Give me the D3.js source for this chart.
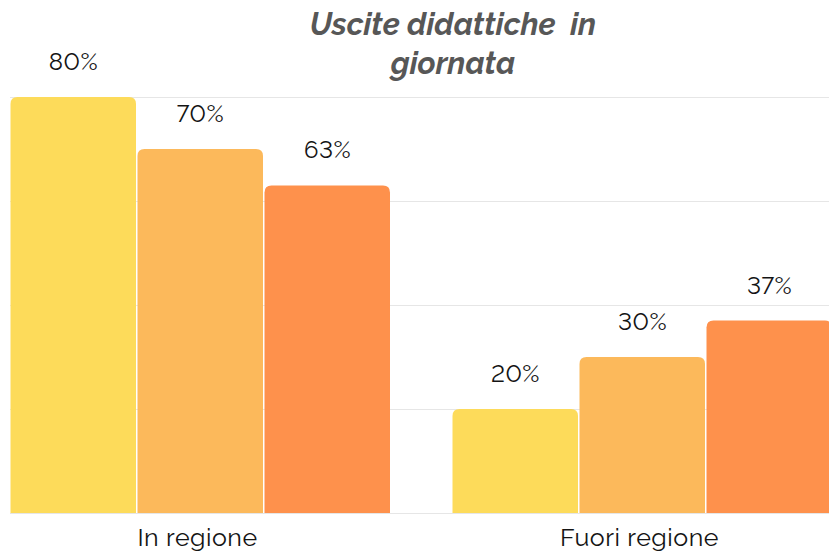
<!DOCTYPE html>
<html lang="it">
<head>
    <meta charset="UTF-8">
    <title>Uscite didattiche in giornata</title>
    <script src="https://d3js.org/d3.v7.min.js"></script>
    <style>
        body { margin: 0; background: #fff; }
        .grid line { stroke: #e6e6e6; stroke-width: 1; }
        .title { font-family: Raleway, Lato, sans-serif; font-weight: bold; font-style: italic; fill: #575757; font-size: 31px; }
        .val { font-family: Raleway, "DejaVu Sans", sans-serif; font-weight: 400; font-size: 24px; fill: #141414; font-variant-numeric: lining-nums; letter-spacing: 0.5px; }
        .cat { font-family: Raleway, "DejaVu Sans", sans-serif; font-weight: 400; font-size: 25px; fill: #141414; letter-spacing: 0.5px; }
    </style>
</head>
<body>
<script>
    const width = 829;
    const height = 553;

    // data
    const groups = ["In regione", "Fuori regione"];
    const series = ["s1", "s2", "s3"];
    const values = [
        [80, 70, 63],
        [20, 30, 37]
    ];
    const gridTicks = [0, 20, 40, 60, 80];
    const colors = ["#fddb5a", "#fcb95b", "#fe914c"];

    const svg = d3.select("body").append("svg")
        .attr("width", width).attr("height", height);

    const x0 = d3.scaleBand().domain(groups).range([10, 833]).paddingInner(0.138).paddingOuter(0);
    const x1 = d3.scaleBand().domain(series).range([0, x0.bandwidth()]);
    const y = d3.scaleLinear().domain([0, 80]).range([513, 97]);

    // gridlines
    svg.append("g").attr("class", "grid")
        .selectAll("line").data(gridTicks).enter().append("line")
        .attr("x1", 10).attr("x2", width)
        .attr("y1", d => y(d) + 0.5).attr("y2", d => y(d) + 0.5);

    // rounded-top bar path
    function barPath(x, yTop, w, yBot, r) {
        return `M${x},${yBot}V${yTop + r}Q${x},${yTop} ${x + r},${yTop}H${x + w - r}Q${x + w},${yTop} ${x + w},${yTop + r}V${yBot}Z`;
    }

    const g = svg.selectAll("g.group")
        .data(groups).enter().append("g")
        .attr("class", "group")
        .attr("transform", d => `translate(${x0(d)},0)`);

    g.selectAll("path")
        .data((d, i) => values[i].map((v, j) => ({ v, s: series[j], j })))
        .enter().append("path")
        .attr("fill", d => colors[d.j])
        .attr("d", d => barPath(x1(d.s) + 0.5, y(d.v), x1.bandwidth() - 1.5, y(0), 7));

    g.selectAll("text.val")
        .data((d, i) => values[i].map((v, j) => ({ v, s: series[j], j })))
        .enter().append("text")
        .attr("class", "val")
        .attr("text-anchor", "middle")
        .attr("x", d => x1(d.s) + x1.bandwidth() / 2)
        .attr("y", d => y(d.v) - 27)
        .text(d => d.v + "%");

    svg.selectAll("text.cat")
        .data(groups).enter().append("text")
        .attr("class", "cat")
        .attr("text-anchor", "middle")
        .attr("x", d => x0(d) + x0.bandwidth() / 2 - 3)
        .attr("y", 546)
        .text(d => d);

    const title = svg.append("text").attr("class", "title").attr("text-anchor", "middle");
    title.append("tspan").attr("x", 453).attr("y", 35).text("Uscite didattiche\u00a0 in");
    title.append("tspan").attr("x", 453).attr("y", 74).text("giornata");
</script>
</body>
</html>
